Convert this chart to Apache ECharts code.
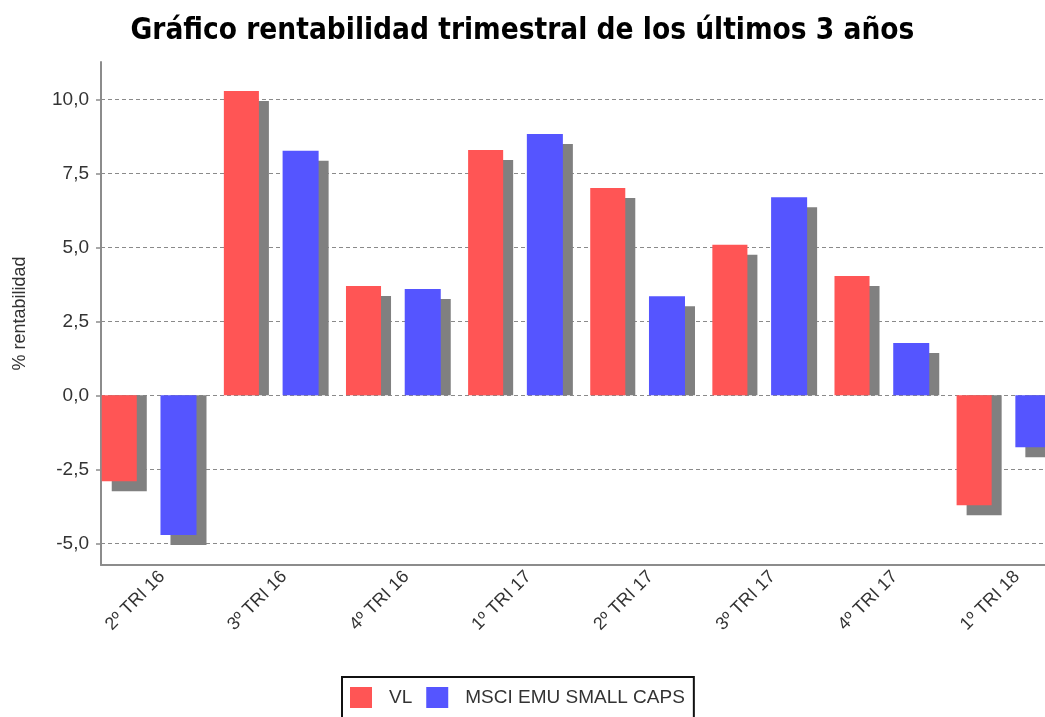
<!DOCTYPE html>
<html>
<head>
<meta charset="utf-8">
<script src="https://cdn.jsdelivr.net/npm/echarts@6/dist/echarts.min.js"></script>
<style>
  html, body { margin: 0; padding: 0; background: #fff; }
  #chart { width: 1045px; height: 717px; }
</style>
</head>
<body>
<div id="chart"></div>
<script>
let chart = echarts.init(document.getElementById('chart'));

// datos
let categories = ['2º TRI 16', '3º TRI 16', '4º TRI 16', '1º TRI 17', '2º TRI 17', '3º TRI 17', '4º TRI 17', '1º TRI 18'];
let vl = [-2.9, 10.28, 3.69, 8.29, 7.0, 5.09, 4.03, -3.71];
let msci = [-4.72, 8.26, 3.59, 8.83, 3.35, 6.69, 1.77, -1.75];
let series_names = ['VL', 'MSCI EMU SMALL CAPS'];
let tick_values = [-5, -2.5, 0, 2.5, 5, 7.5, 10];

let font = 'Liberation Sans, Arial, sans-serif';
let shadow_offset = 10;

// barra con sombra gris desplazada
function bar_renderer(offset_frac, width_frac, color) {
    return function (params, api) {
        let cat = api.value(0);
        let val = api.value(1);
        let base = api.coord([cat, 0]);
        let top = api.coord([cat, val]);
        let band = api.size([1, 0])[0];
        let x = base[0] - band / 2 + offset_frac * band;
        let w = width_frac * band;
        let sy, sh;
        if (val >= 0) {
            sy = top[1] + shadow_offset;
            sh = base[1] - sy;
        } else {
            sy = base[1];
            sh = top[1] + shadow_offset - base[1];
        }
        return {
            type: 'group',
            children: [
                {type: 'rect', shape: {x: x + shadow_offset, y: sy, width: w, height: Math.max(sh, 0)}, style: {fill: '#808080'}},
                {type: 'rect', shape: {x: x, y: Math.min(base[1], top[1]), width: w, height: Math.abs(base[1] - top[1])}, style: {fill: color}}
            ]
        };
    };
}

let option = {
    animation: false,
    textStyle: {fontFamily: font},
    title: {
        text: 'Gráfico rentabilidad trimestral de los últimos 3 años',
        left: 'center',
        top: 11,
        textStyle: {
            fontFamily: 'Liberation Sans Narrow, DejaVu Sans Condensed, Arial Narrow, sans-serif',
            fontSize: 29.5,
            fontWeight: 'bold',
            color: '#000'
        }
    },
    legend: {
        data: series_names,
        left: 342,
        top: 677,
        orient: 'horizontal',
        borderColor: '#111',
        borderWidth: 2,
        padding: [10, 9, 12, 8],
        itemWidth: 22,
        itemHeight: 21,
        itemGap: 14,
        icon: 'rect',
        textStyle: {fontSize: 19, color: '#333', padding: [0, 0, 0, 12]}
    },
    grid: [
        {left: 101, top: 62, width: 977, height: 503, outerBoundsMode: 'none', containLabel: false},
        {left: 101, top: 99.3, width: 977, height: 444, outerBoundsMode: 'none', containLabel: false}
    ],
    xAxis: [
        {
            type: 'category',
            gridIndex: 0,
            data: categories,
            axisLine: {onZero: false, lineStyle: {color: '#8c8c8c', width: 2}},
            axisTick: {show: false},
            axisLabel: {rotate: 45, margin: 9, fontSize: 18, color: '#333', interval: 0}
        },
        {type: 'value', gridIndex: 1, show: false}
    ],
    yAxis: [
        {
            type: 'value',
            gridIndex: 0,
            min: -5.73,
            max: 11.26,
            axisLine: {show: true, lineStyle: {color: '#8c8c8c', width: 2}},
            axisTick: {show: false},
            axisLabel: {show: false},
            splitLine: {show: false},
            name: '% rentabilidad',
            nameLocation: 'middle',
            nameRotate: 90,
            nameGap: 72,
            nameTextStyle: {fontSize: 18, color: '#333'}
        },
        {
            type: 'value',
            gridIndex: 1,
            min: tick_values[0],
            max: tick_values[tick_values.length - 1],
            interval: 2.5,
            axisLine: {show: false},
            axisTick: {show: true, length: 5, lineStyle: {color: '#8c8c8c', width: 1.5}},
            axisLabel: {
                margin: 12,
                fontSize: 19,
                color: '#333',
                formatter: v => v.toFixed(1).replace('.', ',')
            },
            splitLine: {show: true, lineStyle: {color: '#8a8a8a', width: 1.2, type: [4, 3]}}
        }
    ],
    series: [
        {
            name: series_names[0],
            type: 'custom',
            xAxisIndex: 0,
            yAxisIndex: 0,
            itemStyle: {color: '#ff5555'},
            renderItem: bar_renderer(0.006, 0.287, '#ff5555'),
            encode: {x: 0, y: 1},
            data: vl.map((v, i) => [i, v]),
            z: 3
        },
        {
            name: series_names[1],
            type: 'custom',
            xAxisIndex: 0,
            yAxisIndex: 0,
            itemStyle: {color: '#5555ff'},
            renderItem: bar_renderer(0.487, 0.295, '#5555ff'),
            encode: {x: 0, y: 1},
            data: msci.map((v, i) => [i, v]),
            z: 3
        }
    ]
};

chart.setOption(option);
</script>
</body>
</html>
